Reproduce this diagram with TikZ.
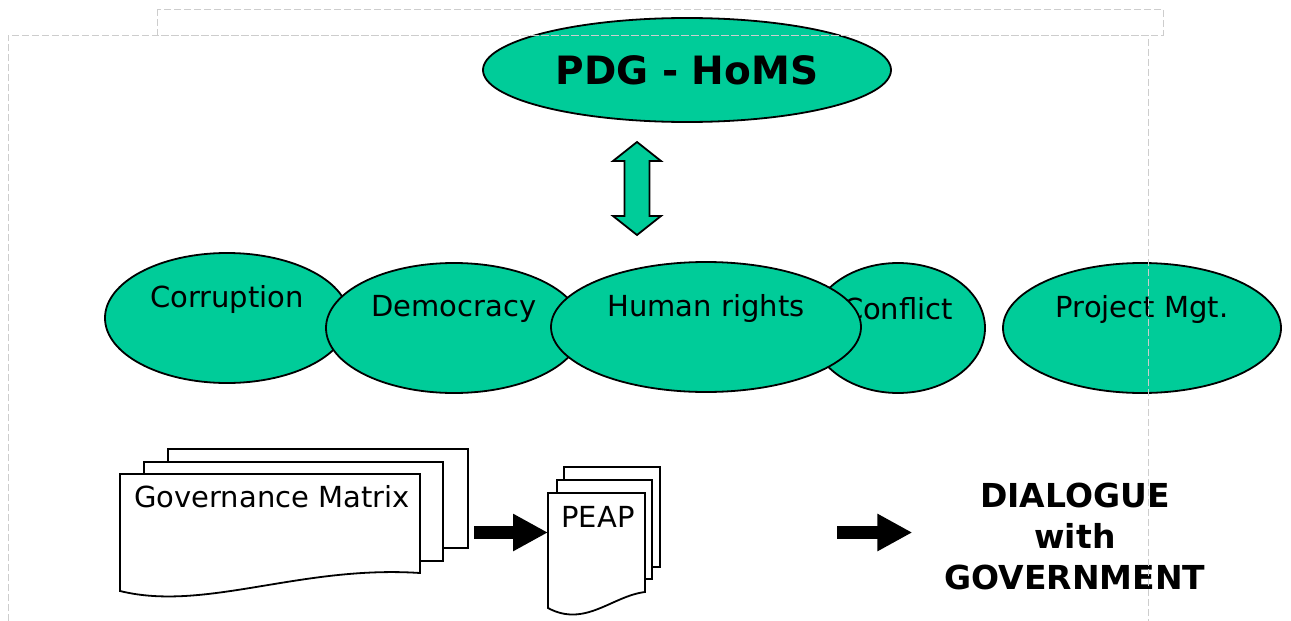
\documentclass[tikz,border=0pt]{standalone}
\usepackage{fontspec}
\setmainfont{DejaVu Sans}
\usetikzlibrary{shapes.geometric,arrows.meta,positioning}
\definecolor{topicgreen}{RGB}{0,204,153}
\definecolor{guide}{RGB}{205,205,205}

\begin{document}
\begin{tikzpicture}[x=1pt,y=-1pt,
    topic/.style={ellipse,draw,fill=topicgreen,line width=1.8pt,inner sep=0pt,minimum height=130pt},
    topiclabel/.style={font=\fontsize{29pt}{35pt}\selectfont,yshift=19pt},
    sheet/.style={draw,fill=white,line width=1.8pt},
    doctext/.style={font=\fontsize{29pt}{35pt}\selectfont,inner sep=0pt},
    fatarrow/.style={line width=13pt,-{Triangle[length=35pt,width=35pt]}},
    guideline/.style={draw=guide,line width=0.8pt,dash pattern=on 7pt off 3pt}]
  \useasboundingbox (0,0) rectangle (1291,621);

  % top node
  \node[topic,minimum width=408pt,minimum height=104pt,
        font=\bfseries\fontsize{39pt}{45pt}\selectfont] (pdg) at (687,70) {PDG - HoMS};

  % double arrow
  \coordinate (link) at (637,188.5);
  \draw[fill=topicgreen,line width=1.8pt] (link) ++(0,-46.5) -- ++(24,19) -- ++(-11.5,0)
      -- ++(0,55) -- ++(11.5,0) -- ++(-24,19) -- ++(-24,-19) -- ++(11.5,0)
      -- ++(0,-55) -- ++(-11.5,0) -- cycle;

  % topics
  \node[topic,minimum width=244pt,label={[topiclabel]center:Corruption}] (corr) at (227,318) {};
  \node[topic,minimum width=174pt,label={[topiclabel]center:Conflict}] (confl) at (898,328) {};
  \node[topic,minimum width=256pt,label={[topiclabel]center:Democracy}] (demo) at (454,328) {};
  \node[topic,minimum width=310pt,label={[topiclabel]center:Human rights}] (hr) at (706,327) {};
  \node[topic,minimum width=278pt,label={[topiclabel]center:Project Mgt.}] (pm) at (1142,328) {};

  % governance matrix stack
  \path[sheet] (168,449) rectangle (468,548);
  \path[sheet] (144,462) rectangle (443,561);
  \path[sheet] (120,474) -- (420,474) -- (420,573)
      .. controls (300,565) and (205,612) .. (120,591) -- cycle;
  \node[doctext] (gm) at (272,497) {Governance Matrix};

  % PEAP stack
  \path[sheet] (564,467) rectangle (660,567);
  \path[sheet] (557,480) rectangle (652,579);
  \path[sheet] (548,493) -- (645,493) -- (645,592)
      .. controls (612,596) and (585,628) .. (548,608) -- cycle;
  \node[doctext] (peap) at (598,517) {PEAP};

  % dialogue
  \node[align=center,inner sep=0pt,font=\bfseries\fontsize{33pt}{41pt}\selectfont]
      (dialog) at (1075,536) {DIALOGUE\\with\\GOVERNMENT};

  \coordinate (gmout) at (474,532.5);
  \coordinate (peapin) at (548,532.5);
  \coordinate (peapout) at (837,532.5);
  \draw[fatarrow] (gmout) -- (peapin);
  \draw[fatarrow] (peapout) -- ([xshift=-32pt]dialog.west |- peapout);

  % slide guides
  \path[guideline] (157,9) rectangle (1163,35);
  \path[guideline] (8,621) -- (8,35) -- (1148,35) -- (1148,621);
\end{tikzpicture}
\end{document}
